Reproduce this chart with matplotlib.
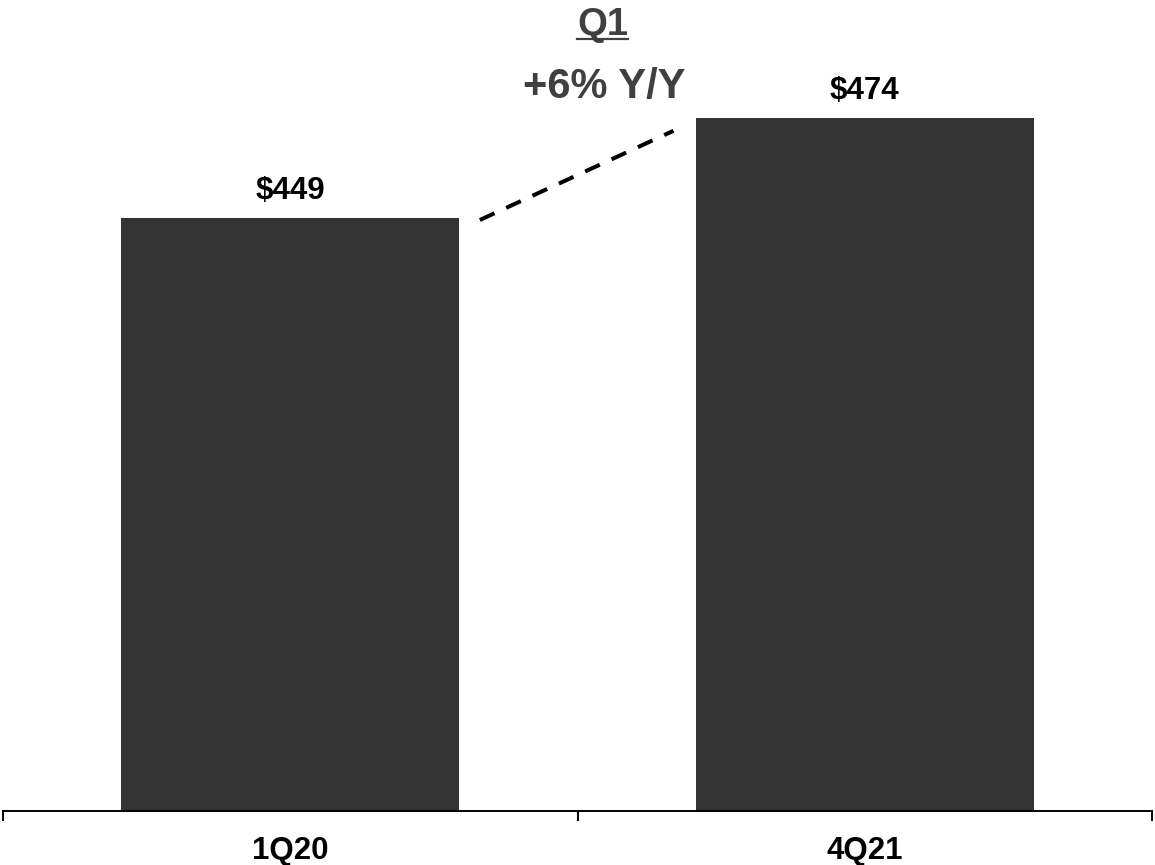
import matplotlib
matplotlib.use("Agg")
import matplotlib.pyplot as plt
from matplotlib.lines import Line2D

# Quarterly values ($)
categories = ["1Q20", "4Q21"]
values = [449, 474]
value_labels = ["$449", "$474"]
growth_title = "Q1"
growth_label = "+6% Y/Y"

plt.rcParams["font.family"] = ["Liberation Sans", "DejaVu Sans"]
plt.rcParams["font.weight"] = "bold"

W, H, DPI = 1155, 865, 100
fig = plt.figure(figsize=(W / DPI, H / DPI), dpi=DPI)
ax = fig.add_axes([3 / W, 54 / H, 1149 / W, 811 / H])

x = list(range(len(categories)))
ax.bar(x, values, width=0.588, color="#333333", zorder=2)

ax.set_xlim(-0.5, len(categories) - 0.5)
ax.set_ylim(300.75, 503.5)

for xi, v, lab in zip(x, values, value_labels):
    ax.annotate(lab, (xi, v), xytext=(0, 14), textcoords="offset points",
                ha="center", va="baseline", fontsize=22.5, fontweight="bold",
                color="black")

# dashed connector between the two bars
ax.plot([0.33, 0.667], [values[0] - 0.5, values[1] - 3.2],
        color="black", lw=2.9, linestyle=(0, (4.0, 3.2)), zorder=3,
        solid_capstyle="butt", dash_capstyle="butt")

ax.text(0.545, 494.7, growth_title, ha="center", va="baseline",
        fontsize=27.5, fontweight="bold", color="#404040")
fig.add_artist(Line2D([577 / W, 628 / W], [1 - 39 / H, 1 - 39 / H],
                      color="#404040", lw=1.6))
ax.text(0.547, 479.1, growth_label, ha="center", va="baseline",
        fontsize=30, fontweight="bold", color="#404040")

# axes styling
for side in ["top", "right", "left"]:
    ax.spines[side].set_visible(False)
ax.spines["bottom"].set_linewidth(1.4)
ax.spines["bottom"].set_color("black")
ax.set_yticks([])
ax.set_xticks(x)
ax.set_xticklabels(categories, fontsize=22.5, fontweight="bold")
ax.tick_params(axis="x", which="major", length=0, pad=18)
ax.set_xticks([-0.5, 0.5, 1.5], minor=True)
ax.tick_params(axis="x", which="minor", length=7, width=1.4, direction="out")

fig.savefig("out.png", dpi=DPI)
